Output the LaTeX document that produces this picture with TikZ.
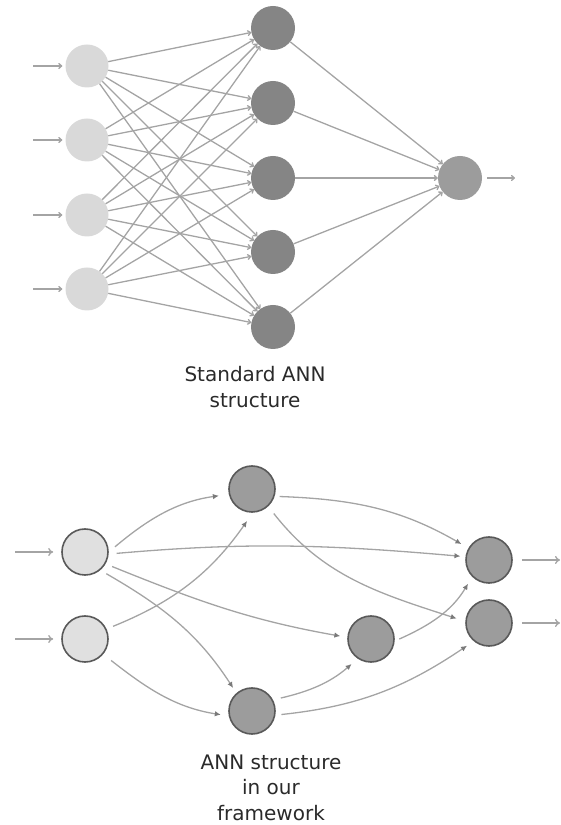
\documentclass[tikz,border=0pt]{standalone}
\usepackage{fontspec}
\setmainfont{DejaVu Sans}
\usetikzlibrary{arrows.meta}
\definecolor{topin}{HTML}{D9D9D9}
\definecolor{tophid}{HTML}{858585}
\definecolor{topout}{HTML}{9C9C9C}
\definecolor{edgegray}{HTML}{A4A4A4}
\definecolor{tipgray}{HTML}{7A7A7A}
\definecolor{bordergray}{HTML}{595959}
\definecolor{botin}{HTML}{E0E0E0}
\definecolor{bothid}{HTML}{9C9C9C}
\definecolor{txt}{HTML}{2A2A2A}
\begin{document}
\begin{tikzpicture}[x=1pt,y=1pt,
  tin/.style={circle, fill=topin, minimum size=43pt, inner sep=0pt},
  thid/.style={circle, fill=tophid, minimum size=44pt, inner sep=0pt},
  tout/.style={circle, fill=topout, minimum size=44pt, inner sep=0pt},
  tedge/.style={draw=edgegray, line width=1.3pt, -{To[length=4pt,width=6pt]}},
  bin/.style={circle, draw=bordergray, line width=1.6pt, fill=botin, minimum size=46pt, inner sep=0pt},
  bhid/.style={circle, draw=bordergray, line width=1.6pt, fill=bothid, minimum size=46pt, inner sep=0pt},
  bedge/.style={draw=edgegray, line width=1.3pt, -{Latex[length=6pt,width=5.5pt,color=tipgray]}},
  barr/.style={draw=edgegray, line width=1.3pt, -{To[length=5pt,width=8pt]}},
  lbl/.style={text=txt, font=\fontsize{20}{25}\selectfont, anchor=base, inner sep=0pt}]
\useasboundingbox (0,0) rectangle (561,825);

% ---------- top network ----------
\foreach \i/\y in {1/759,2/685,3/610,4/536}{
  \node[tin] (a\i) at (87,\y) {};
  \coordinate (ain\i) at (33,\y);
}
\foreach \j/\y in {1/797,2/722,3/647,4/573,5/498}
  \node[thid] (b\j) at (273,\y) {};
\node[tout] (c) at (460,647) {};
\coordinate (cout) at (515,647);

\foreach \i in {1,...,4}{
  \draw[tedge, shorten >=3pt] (ain\i) -- (a\i);
  \foreach \j in {1,...,5}
    \draw[tedge] (a\i) -- (b\j);
}
\foreach \j in {1,...,5}
  \draw[tedge] (b\j) -- (c);
\draw[tedge, shorten <=5pt] (c) -- (cout);

\node[lbl] (t1a) at (255,443) {Standard ANN};
\node[lbl] (t1b) at (255,417) {structure};

% ---------- bottom network ----------
\node[bin] (I1) at (85,273) {};
\node[bin] (I2) at (85,186) {};
\node[bhid] (H1) at (252,336) {};
\node[bhid] (H2) at (252,114) {};
\node[bhid] (H3) at (371,186) {};
\node[bhid] (O1) at (489,265) {};
\node[bhid] (O2) at (489,202) {};
\coordinate (i1in) at (15,273);
\coordinate (i2in) at (15,186);
\coordinate (o1out) at (560,265);
\coordinate (o2out) at (560,202);

\draw[barr, shorten >=8pt] (i1in) -- (I1);
\draw[barr, shorten >=8pt] (i2in) -- (I2);
\draw[barr, shorten <=9pt] (O1) -- (o1out);
\draw[barr, shorten <=9pt] (O2) -- (o2out);

\draw[bedge, shorten <=8pt, shorten >=10pt] (I1.0) to[out=40,in=188] (H1.193);
\draw[bedge, shorten <=8pt, shorten >=5pt] (I1.-5) to[out=5,in=175] (O1.172);
\draw[bedge, shorten <=7pt, shorten >=7pt] (I1.-30) to[out=-22,in=170] (H3.176);
\draw[bedge, shorten <=7pt, shorten >=6pt] (I1.-50) to[out=-30,in=123] (H2.131);
\draw[bedge, shorten <=7pt, shorten >=10pt] (I2.25) to[out=22,in=235] (H1.272);
\draw[bedge, shorten <=10pt, shorten >=8pt] (I2.-40) to[out=-38,in=171] (H2.192);
\draw[bedge, shorten <=5pt, shorten >=8pt] (H1.-18) to[out=-2,in=150] (O1.150);
\draw[bedge, shorten <=9pt, shorten >=9pt] (H1.-47) to[out=-52,in=162] (O2.176);
\draw[bedge, shorten <=5pt, shorten >=8pt] (H3.-5) to[out=24,in=239] (O1.225);
\draw[bedge, shorten <=8pt, shorten >=8pt] (H2.28) to[out=13,in=221] (H3.236);
\draw[bedge, shorten <=6pt, shorten >=8pt] (H2.-10) to[out=6,in=214] (O2.230);

\node[lbl] (t2a) at (271,55) {ANN structure};
\node[lbl] (t2b) at (271,30) {in our};
\node[lbl] (t2c) at (271,5) {framework};
\end{tikzpicture}
\end{document}
